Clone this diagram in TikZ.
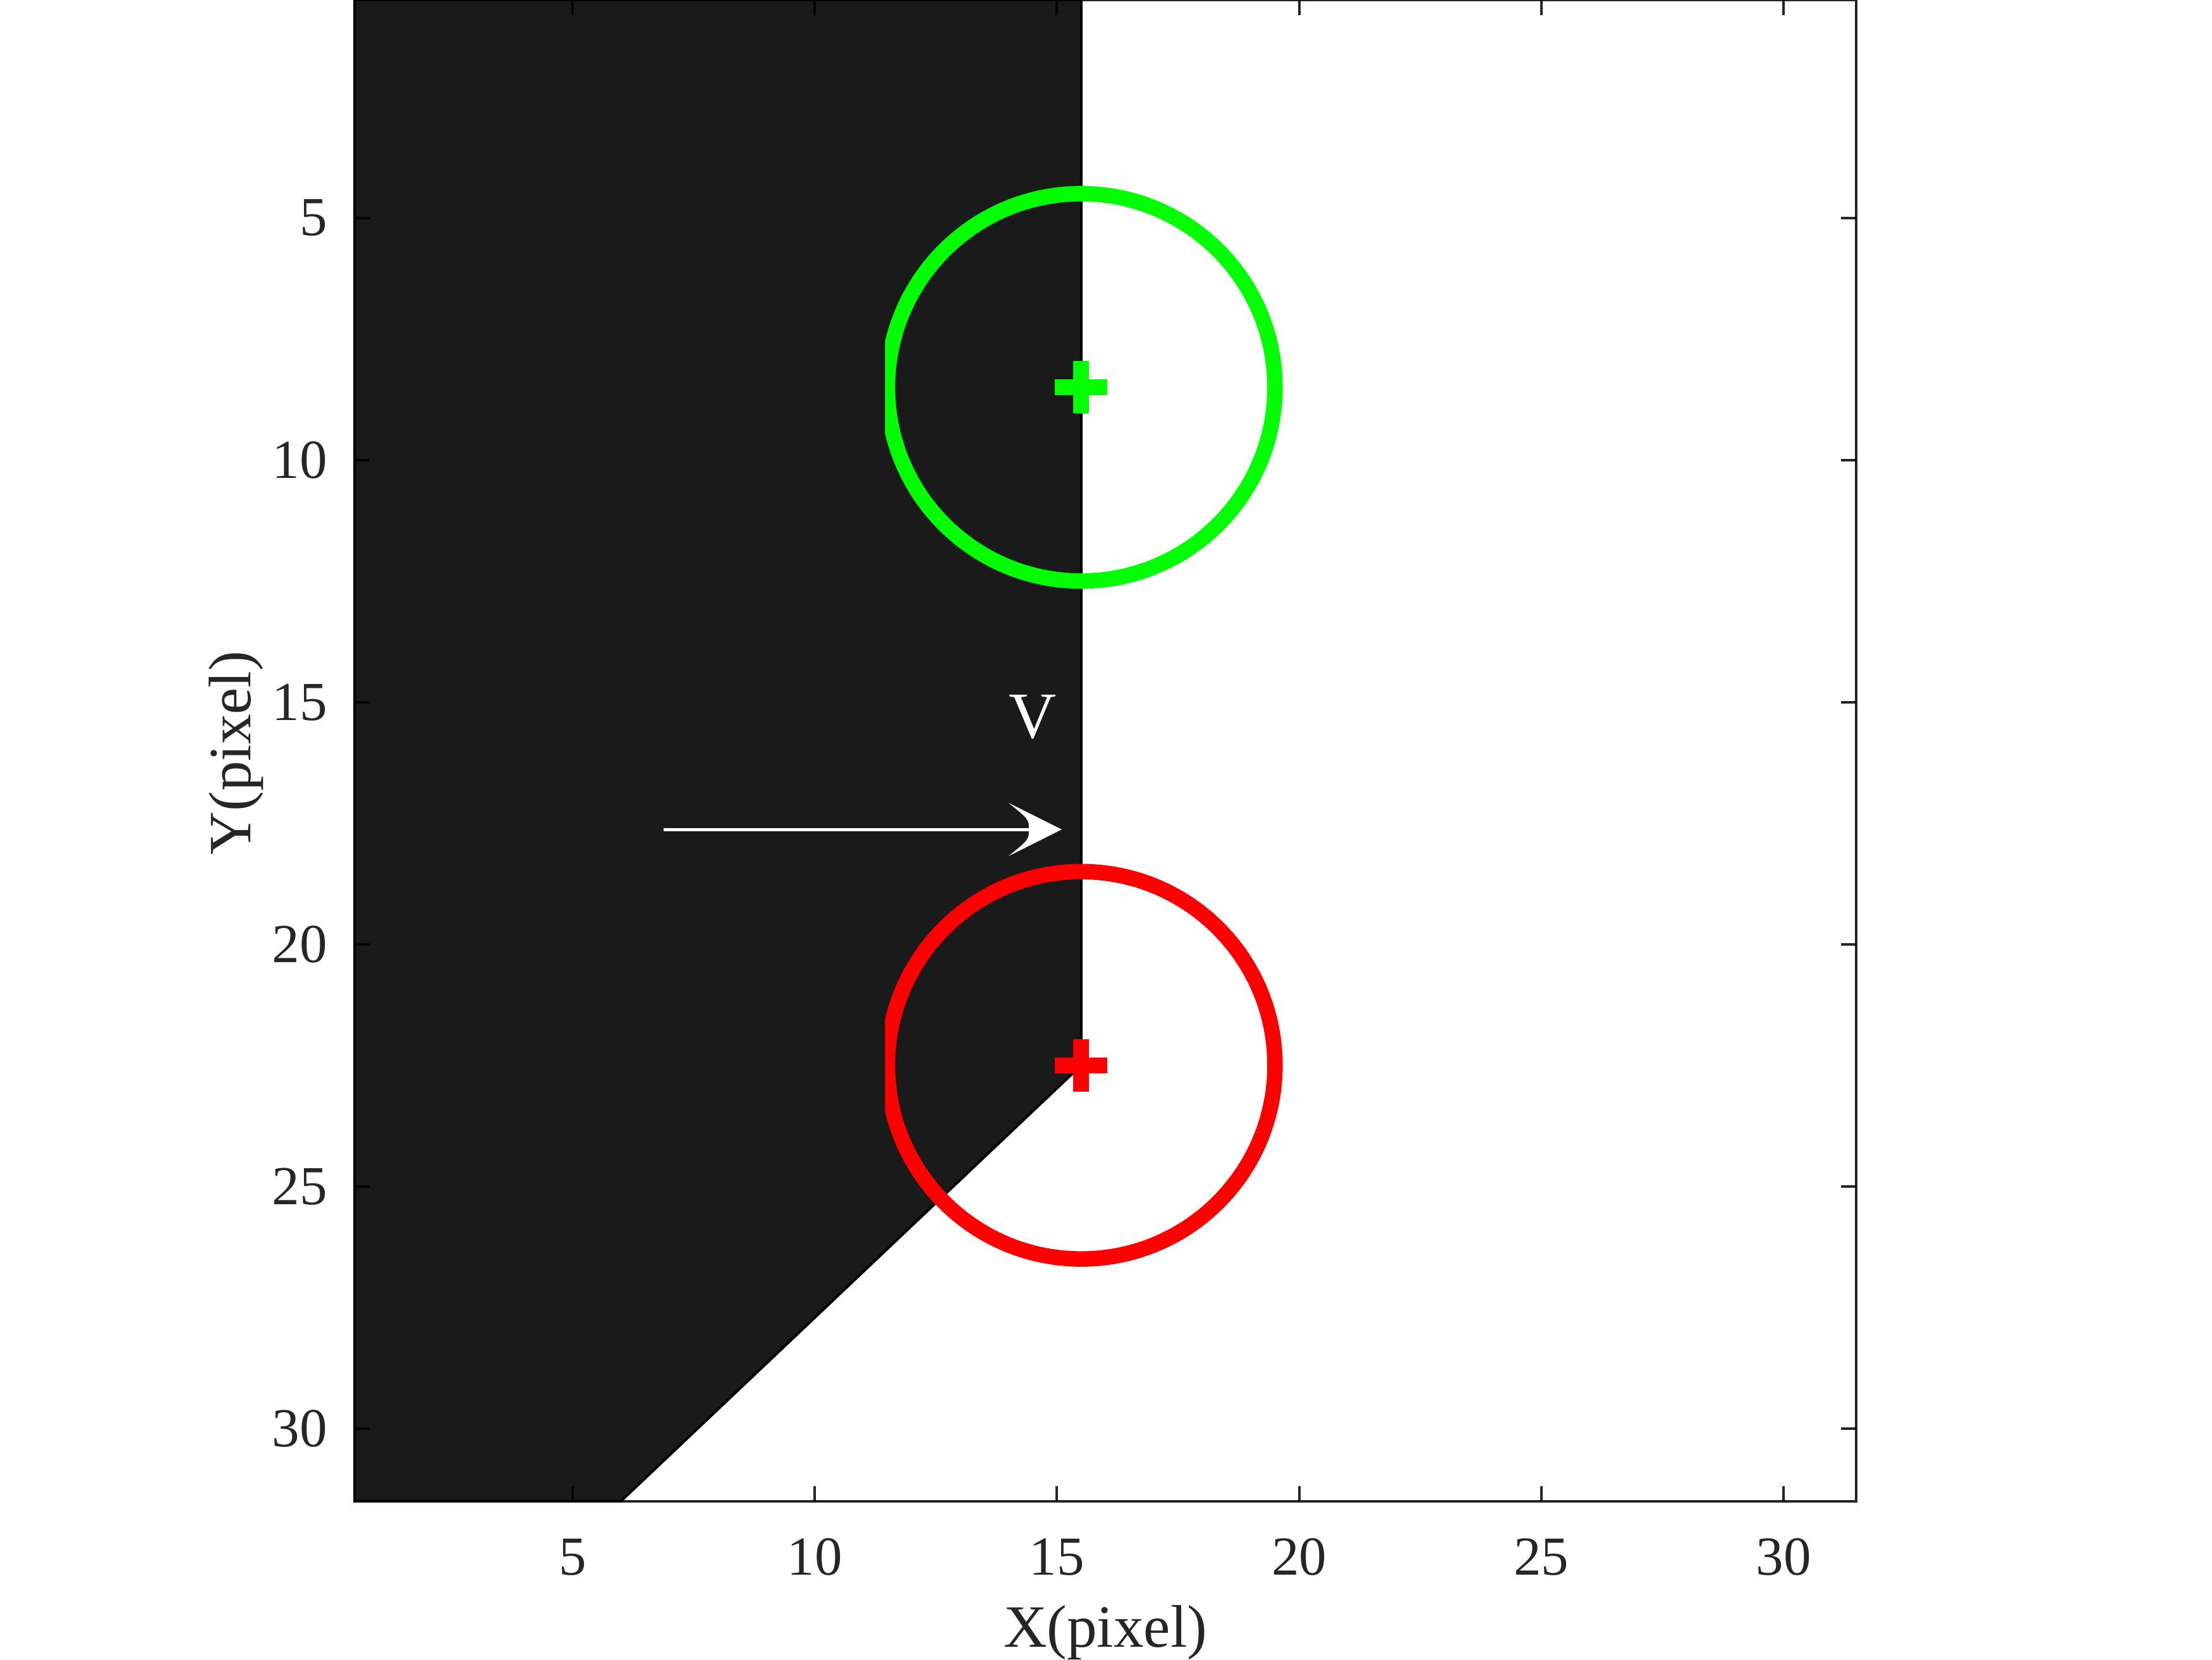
\documentclass[tikz,border=0pt]{standalone}
\usepackage{fontspec}
\setmainfont{Liberation Serif}
\definecolor{bgdark}{HTML}{1A1A1A}
\definecolor{mgreen}{HTML}{00FF00}
\definecolor{mred}{HTML}{FF0000}
\begin{document}
\begin{tikzpicture}[x=7.665pt,y=-7.66pt,
  axisline/.style={draw=black, draw opacity=0.85, line width=0.4pt},
  ticklab/.style={font=\fontsize{8.7}{10}\selectfont, text=black!85, inner sep=0pt},
  axlab/.style={font=\fontsize{9.5}{11}\selectfont, text=black!85, inner sep=0pt},
  ring/.style={line width=2.45pt},
  plusmark/.style={line width=2.5pt},
  region/.style={fill=bgdark, draw=black, line width=0.4pt},
  varrow/.style={white, line width=0.5pt}]
\useasboundingbox (-6.819,0.5) rectangle (38.843,34.769);
\fill[white] (-6.819,0.5) rectangle (38.843,34.769);

% dark region
\filldraw[region] (0.5,0.5) -- (15.5,0.5) -- (15.5,22.5) -- (6,31.5) -- (0.5,31.5) -- cycle;

% velocity arrow
\coordinate (astart) at (6.88,17.63);
\coordinate (atip) at (15.10,17.63);
\coordinate (ainset) at (14.42,17.63);
\draw[varrow] (astart) -- (ainset);
\fill[white] (atip) -- (14.0,17.08) .. controls (14.42,17.42) .. (ainset)
  .. controls (14.42,17.84) .. (14.0,18.18) -- cycle;
\node[font=\fontsize{10.4}{12}\selectfont, text=white, inner sep=0pt, anchor=base] (vlab) at (14.5,15.74) {V};

% circles
\begin{scope}
  \clip (11.45,0.5) rectangle (31.5,31.5);
  \draw[mgreen, ring] (15.5,8.5) circle [radius=4];
  \draw[mred, ring] (15.5,22.5) circle [radius=4];
\end{scope}

% plus markers
\draw[mgreen, plusmark] (14.96,8.5) -- (16.04,8.5);
\draw[mgreen, plusmark] (15.5,7.96) -- (15.5,9.04);
\draw[mred, plusmark] (14.96,22.5) -- (16.04,22.5);
\draw[mred, plusmark] (15.5,21.96) -- (15.5,23.04);

% axes
\draw[axisline] (0.5,0.5) rectangle (31.5,31.5);
\foreach \v in {5,10,...,30} {
  \draw[axisline] (\v,31.5) -- (\v,31.187);
  \draw[axisline] (\v,0.5) -- (\v,0.813);
  \draw[axisline] (0.5,\v) -- (0.813,\v);
  \draw[axisline] (31.5,\v) -- (31.187,\v);
  \node[ticklab, anchor=base] (xt\v) at (\v,33.02) {\v};
  \node[ticklab, anchor=east] (yt\v) at (-0.035,\v) {\v};
}
\node[axlab, anchor=base] (xlab) at (16,34.51) {X(pixel)};
\node[axlab, anchor=base, rotate=90] (ylab) at (-1.64,16.05) {Y(pixel)};
\end{tikzpicture}
\end{document}
